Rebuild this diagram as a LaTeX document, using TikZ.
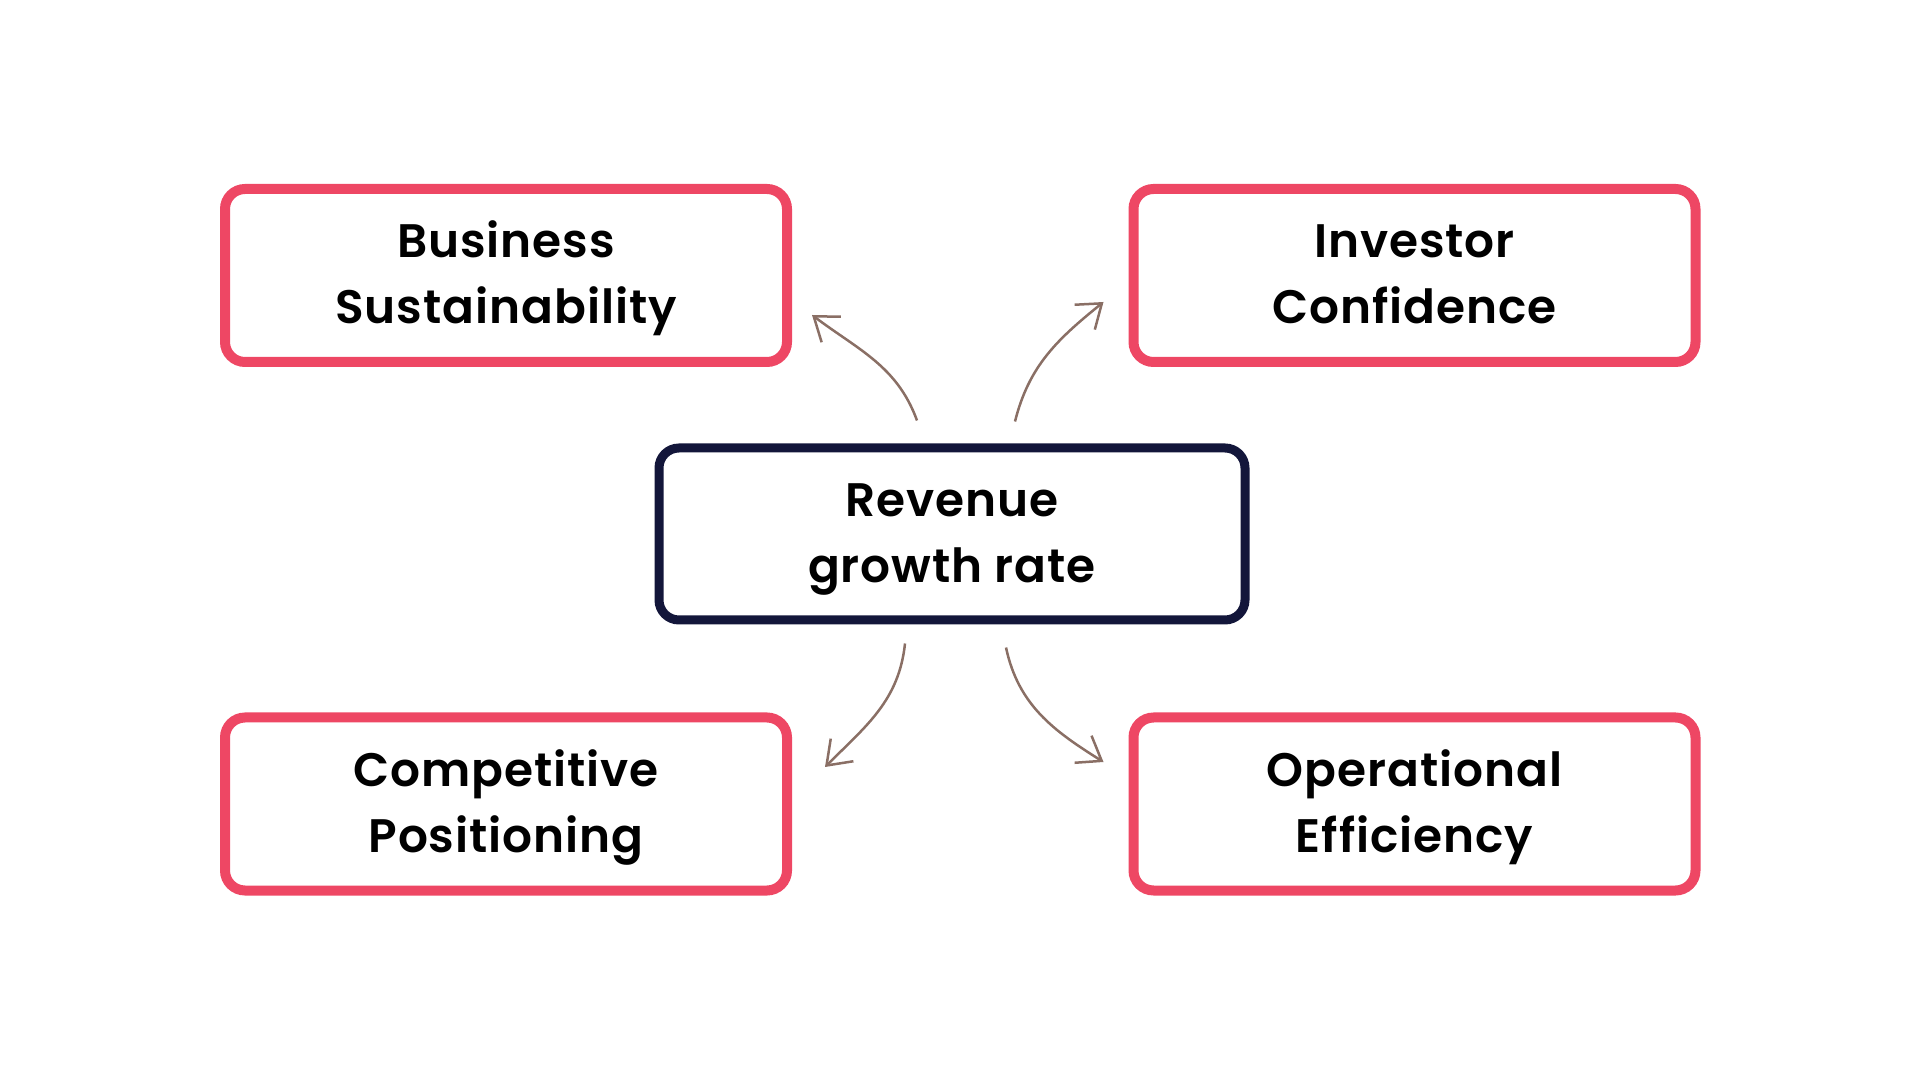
\documentclass[tikz,border=0pt]{standalone}
\usepackage{fontspec}
\setmainfont{Poppins}[UprightFont=* SemiBold, LetterSpace=2]
\usetikzlibrary{arrows.meta}
\definecolor{boxred}{HTML}{EE4764}
\definecolor{boxnavy}{HTML}{13163A}
\definecolor{linkbrown}{HTML}{8A6F65}
\newcommand{\boxfont}{\fontsize{47}{66}\selectfont}

\begin{document}
\begin{tikzpicture}[x=1pt, y=1pt, >={Straight Barb[length=22pt,width=32pt]}]
  \tikzset{factor/.style={draw=boxred, line width=10pt, rounded corners=20pt, minimum width=562pt, minimum height=173pt, inner sep=0pt, align=center, font=\boxfont, text height=112pt, text depth=15pt},
    core/.style={factor, draw=boxnavy, line width=9pt, minimum width=586pt, minimum height=172pt},
    link/.style={->, draw=linkbrown, line width=2.5pt}}
  \useasboundingbox (0,0) rectangle (1920,1080);

  \node[core] (rev) at (952,546) {Revenue\\growth rate};

  \node[factor] (biz) at (506,804.5) {Business\\Sustainability};
  \node[factor] (inv) at (1414.5,804.5) {Investor\\Confidence};
  \node[factor] (comp) at (506,276) {Competitive\\Positioning};
  \node[factor] (ops) at (1414.5,276) {Operational\\Efficiency};

  %--- links out of the centre ---
  \draw[link] ([shift={(-35,23)}]rev.north) to[out=110, in=-37] ([shift={(20,-39.5)}]biz.east);
  \draw[link] ([shift={(63,22)}]rev.north) to[out=76, in=-141] ([shift={(-25,-26.5)}]inv.west);
  \draw[link] ([shift={(-47,-19)}]rev.south) to[out=-96, in=45] ([shift={(33,37)}]comp.east);
  \draw[link] ([shift={(54,-23)}]rev.south) to[out=-78, in=148] ([shift={(-25,42)}]ops.west);
\end{tikzpicture}
\end{document}
